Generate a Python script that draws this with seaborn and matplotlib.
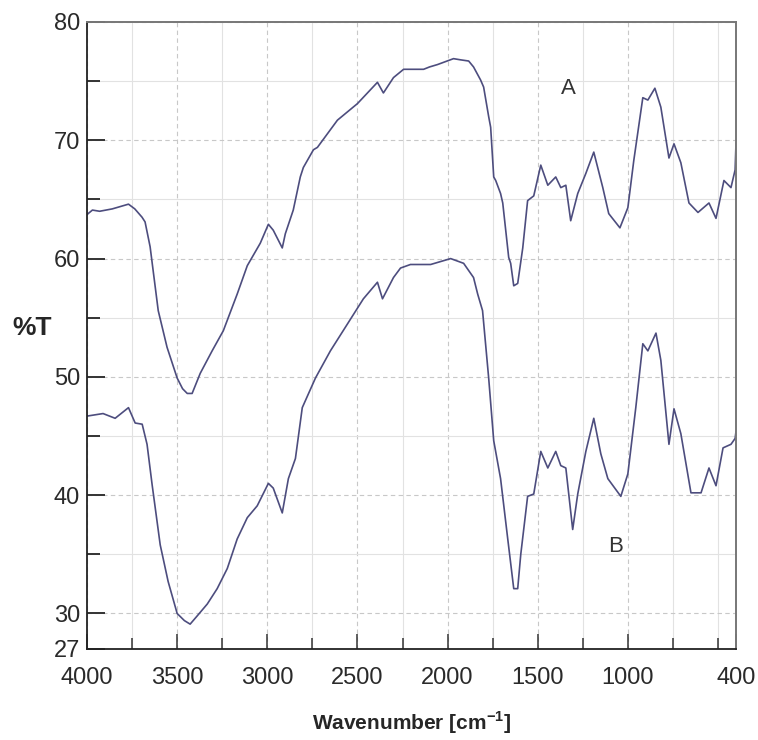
import numpy as np
import pandas as pd
import matplotlib
matplotlib.use("Agg")
import matplotlib.pyplot as plt
import seaborn as sns
from matplotlib.ticker import FixedLocator

# ---- data ----
wn_A = [4000, 3994, 3970, 3930, 3860, 3770, 3735, 3695, 3678, 3650, 3605, 3556, 3500, 3470,
        3444, 3417, 3372, 3306, 3244, 3167, 3111, 3039, 2994, 2967, 2917, 2900, 2856, 2817,
        2800, 2744, 2722, 2611, 2500, 2389, 2356, 2300, 2244, 2133, 2100, 2056, 1967, 1928,
        1883, 1856, 1817, 1800, 1772, 1761, 1744, 1733, 1706, 1694, 1661, 1650, 1633, 1611,
        1583, 1556, 1522, 1483, 1444, 1400, 1372, 1344, 1317, 1278, 1233, 1189, 1139, 1106,
        1044, 1000, 967, 917, 889, 850, 817, 772, 744, 706, 661, 611, 550, 511, 467, 428, 405,
        400]
T_A = [63.7, 63.8, 64.1, 64.0, 64.2, 64.6, 64.2, 63.5, 63.1, 61.0, 55.6, 52.5, 49.9, 49.0,
       48.6, 48.6, 50.3, 52.2, 53.9, 57.0, 59.4, 61.3, 62.9, 62.4, 60.9, 62.1, 64.1, 66.9,
       67.7, 69.2, 69.4, 71.7, 73.1, 74.9, 74.0, 75.3, 76.0, 76.0, 76.2, 76.4, 76.9, 76.8,
       76.7, 76.2, 75.1, 74.5, 72.0, 71.1, 66.9, 66.6, 65.5, 64.7, 60.1, 59.6, 57.7, 57.9,
       60.9, 64.9, 65.3, 67.9, 66.2, 66.9, 66.0, 66.2, 63.2, 65.5, 67.2, 69.0, 66.0, 63.8,
       62.6, 64.3, 68.3, 73.6, 73.4, 74.4, 72.8, 68.5, 69.7, 68.1, 64.7, 63.9, 64.7, 63.4,
       66.6, 66.0, 67.5, 69.8]

wn_B = [4000, 3994, 3911, 3844, 3770, 3733, 3694, 3667, 3639, 3594, 3550, 3500, 3460, 3428,
        3383, 3333, 3278, 3222, 3167, 3111, 3056, 2994, 2967, 2917, 2883, 2844, 2806, 2733,
        2650, 2467, 2389, 2361, 2300, 2261, 2206, 2094, 1983, 1911, 1856, 1833, 1806, 1772,
        1744, 1706, 1667, 1633, 1611, 1594, 1556, 1522, 1483, 1444, 1400, 1372, 1344, 1306,
        1278, 1233, 1189, 1150, 1111, 1039, 1000, 956, 917, 889, 844, 817, 772, 744, 706, 650,
        594, 550, 511, 472, 428, 405, 400]
T_B = [46.7, 46.7, 46.9, 46.5, 47.4, 46.1, 46.0, 44.3, 40.9, 35.8, 32.7, 30.0, 29.4, 29.1,
       29.9, 30.8, 32.1, 33.8, 36.3, 38.1, 39.1, 41.0, 40.6, 38.5, 41.4, 43.1, 47.4, 49.9,
       52.2, 56.6, 58.0, 56.6, 58.4, 59.2, 59.5, 59.5, 60.0, 59.6, 58.4, 57.0, 55.6, 49.9,
       44.6, 41.4, 36.4, 32.1, 32.1, 35.0, 39.9, 40.1, 43.7, 42.3, 43.7, 42.5, 42.3, 37.1,
       40.1, 43.7, 46.5, 43.5, 41.4, 39.9, 41.8, 47.4, 52.8, 52.2, 53.7, 51.4, 44.3, 47.3,
       45.2, 40.2, 40.2, 42.3, 40.8, 44.0, 44.3, 44.8, 45.4]

x_major = [4000, 3500, 3000, 2500, 2000, 1500, 1000, 400]
x_minor = [3750, 3250, 2750, 2250, 1750, 1250, 750, 500]
y_major = [27, 30, 40, 50, 60, 70, 80]
y_minor = [35, 45, 55, 65, 75]

df = pd.concat([
    pd.DataFrame({"wn": wn_A, "T": T_A, "s": "A"}),
    pd.DataFrame({"wn": wn_B, "T": T_B, "s": "B"}),
])

sns.set_style("white")
plt.rcParams["font.family"] = ["Liberation Sans", "DejaVu Sans"]

fig = plt.figure(figsize=(7.58, 7.40), dpi=100)
ax = fig.add_axes([0.1148, 0.123, 0.971 - 0.1148, 0.9703 - 0.123])

line_col = "#4d4d7e"
sns.lineplot(data=df, x="wn", y="T", units="s", estimator=None, sort=False,
             color=line_col, linewidth=1.2, ax=ax, legend=False)

ax.set_xlim(4000, 400)
ax.set_ylim(27, 80)
ax.xaxis.set_major_locator(FixedLocator(x_major))
ax.xaxis.set_minor_locator(FixedLocator(x_minor))
ax.yaxis.set_major_locator(FixedLocator(y_major))
ax.yaxis.set_minor_locator(FixedLocator(y_minor))
ax.set_xticklabels([str(v) for v in x_major])
ax.set_yticklabels([str(v) for v in y_major])

ax.grid(True, which="major", color="#c8c8c8", linestyle=(0, (4, 3)), linewidth=0.8)
ax.grid(True, which="minor", color="#e2e2e2", linestyle="-", linewidth=0.8)
ax.set_axisbelow(True)

ax.tick_params(axis="both", which="both", direction="in", colors="#333333",
               labelsize=17, labelcolor="#2a2a2a")
ax.tick_params(axis="x", which="major", length=11, width=1.1, pad=13, bottom=True, top=False)
ax.tick_params(axis="x", which="minor", length=8, width=1.1, bottom=True, top=False)
ax.tick_params(axis="y", which="major", length=13, width=1.4, pad=5, left=True, right=False)
ax.tick_params(axis="y", which="minor", length=9, width=1.4, left=True, right=False)

for side in ["left", "bottom"]:
    ax.spines[side].set_color("#222222")
    ax.spines[side].set_linewidth(1.3)
for side in ["top", "right"]:
    ax.spines[side].set_color("#777777")
    ax.spines[side].set_linewidth(1.4)

ax.set_xlabel("Wavenumber [cm$^{\\mathregular{-1}}$]", fontsize=15, fontweight="bold",
              labelpad=15)
ax.set_ylabel("%T", fontsize=19, fontweight="bold", rotation=0, ha="center", va="center")
ax.yaxis.set_label_coords(-0.085, 0.512)

ax.text(1330, 74.4, "A", fontsize=16, color="#333333", ha="center", va="center")
ax.text(1067, 35.7, "B", fontsize=16, color="#333333", ha="center", va="center")

fig.savefig("out.png", dpi=100, facecolor="white")
